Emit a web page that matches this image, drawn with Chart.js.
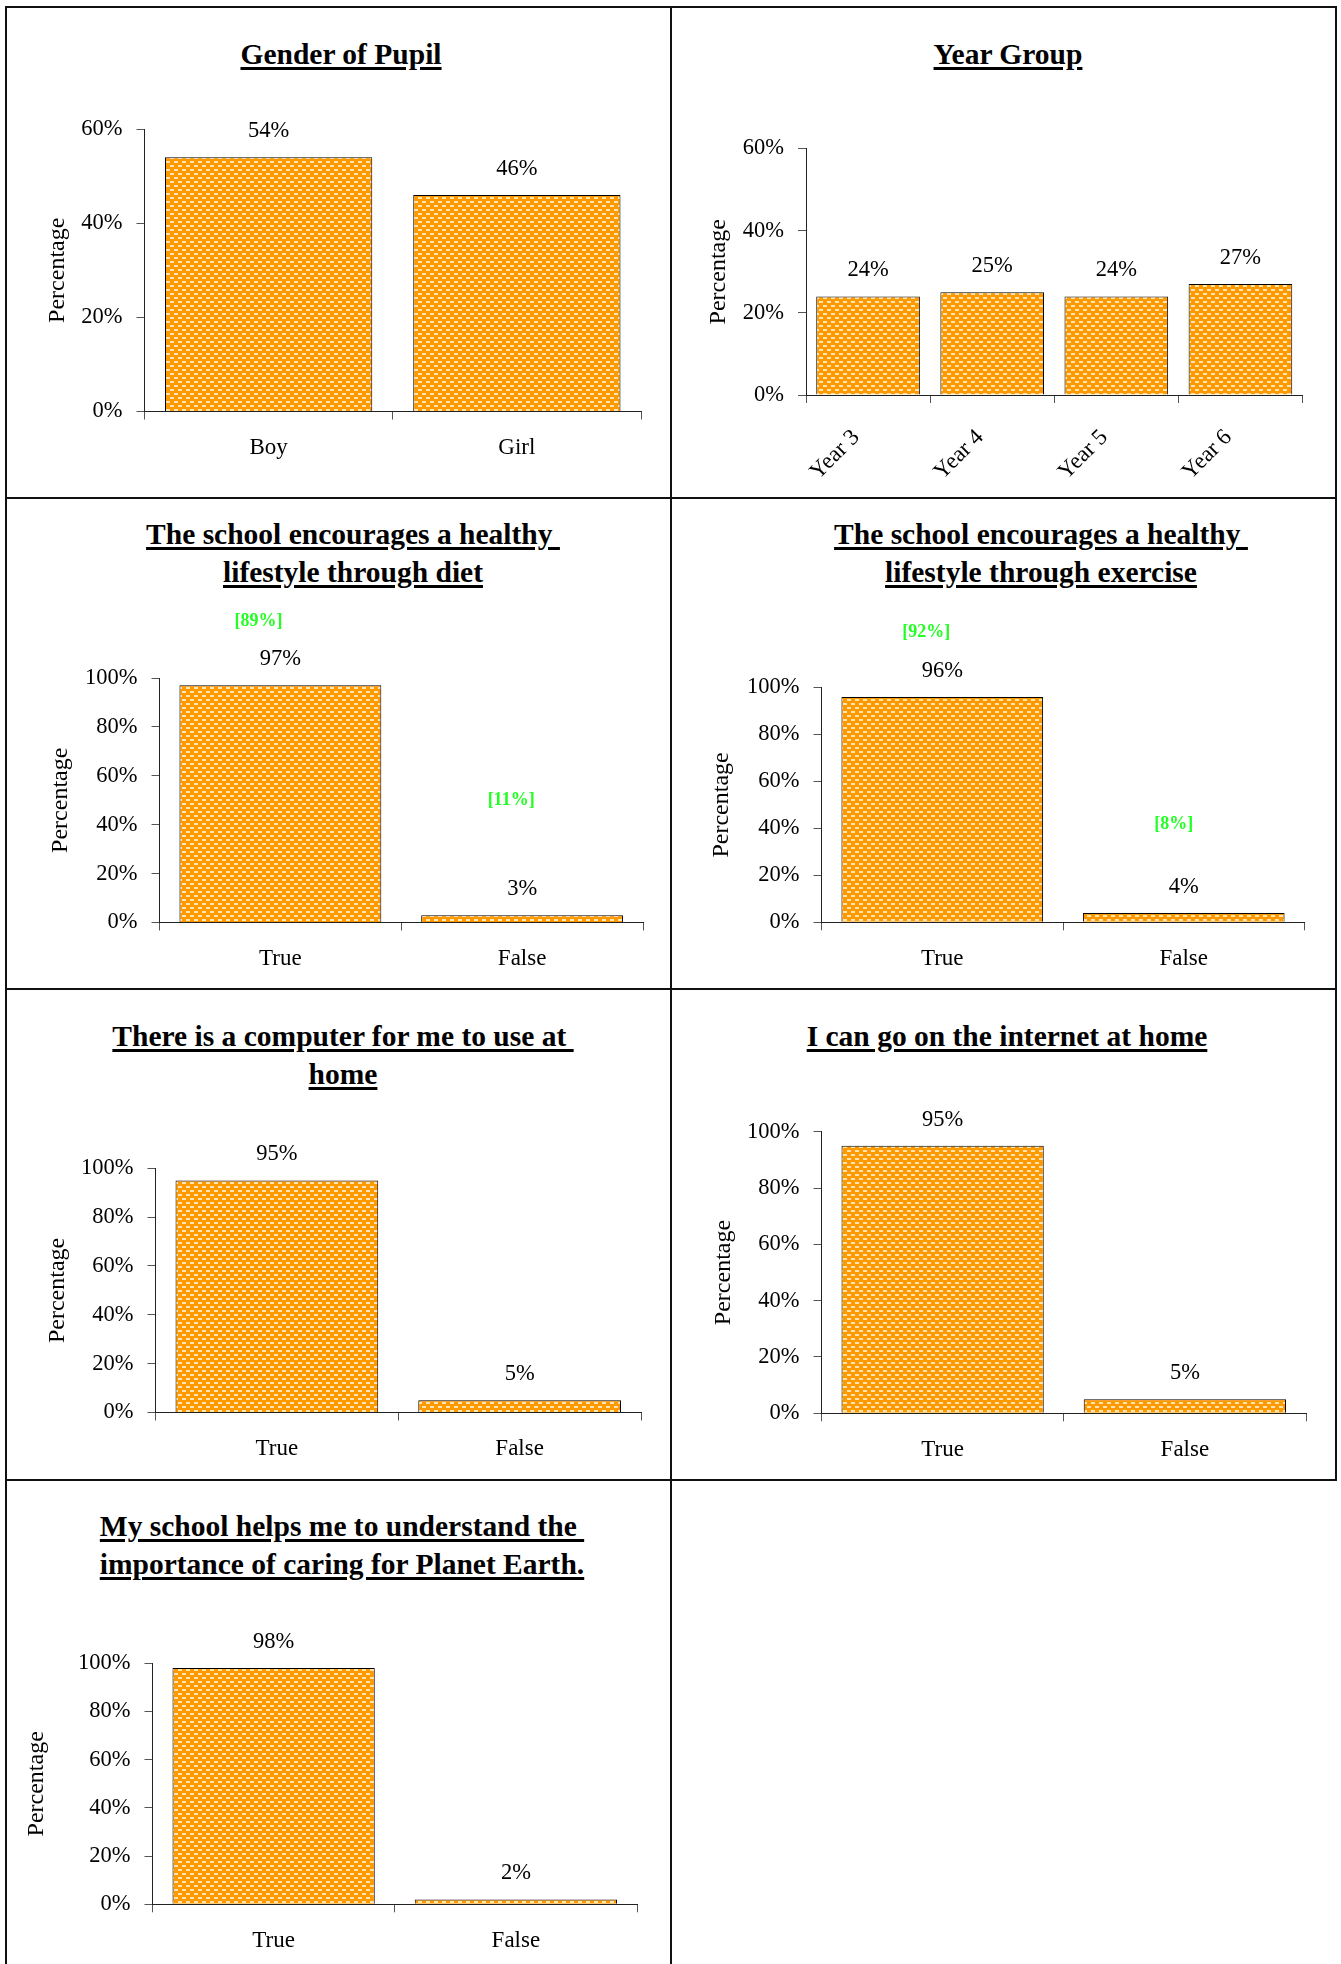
<!DOCTYPE html>
<html>
<head>
<meta charset="utf-8">
<title>Pupil survey</title>
<script src="https://cdn.jsdelivr.net/npm/chart.js@4.4.1/dist/chart.umd.min.js"></script>
<style>
  body { margin: 0; background: #fff; }
  #page { position: relative; width: 1341px; height: 1964px; overflow: hidden; background: #fff; }
  .rule { position: absolute; background: #111; }
  canvas { position: absolute; }
  .title {
    position: absolute; width: 700px; text-align: center; color: #000;
    font: bold 29.5px/37.5px "Liberation Serif", "Times New Roman", serif;
    text-decoration: underline; text-decoration-thickness: 3px; text-underline-offset: 3px;
  }
</style>
</head>
<body>
<div id="page">
  <!-- table rules -->
  <div class="rule" style="left:5px;top:6px;width:1332px;height:2px"></div>
  <div class="rule" style="left:5px;top:497px;width:1332px;height:2px"></div>
  <div class="rule" style="left:5px;top:988px;width:1332px;height:2px"></div>
  <div class="rule" style="left:5px;top:1479px;width:1332px;height:2px"></div>
  <div class="rule" style="left:5px;top:6px;width:2px;height:1958px"></div>
  <div class="rule" style="left:670px;top:6px;width:2px;height:1958px"></div>
  <div class="rule" style="left:1335px;top:6px;width:2px;height:1475px"></div>

  <div class="title" style="left:-9px;top:36px">Gender of Pupil</div>
  <div class="title" style="left:658px;top:36px">Year Group</div>
  <div class="title" style="left:3px;top:516px">The school encourages a healthy&nbsp;<br>lifestyle through diet</div>
  <div class="title" style="left:691px;top:516px">The school encourages a healthy&nbsp;<br>lifestyle through exercise</div>
  <div class="title" style="left:-7px;top:1018px">There is a computer for me to use at&nbsp;<br>home</div>
  <div class="title" style="left:657px;top:1018px">I can go on the internet at home</div>
  <div class="title" style="left:-8px;top:1508px">My school helps me to understand the&nbsp;<br>importance of caring for Planet Earth.</div>

  <canvas id="genderChart"></canvas>
  <canvas id="yearChart"></canvas>
  <canvas id="dietChart"></canvas>
  <canvas id="exerciseChart"></canvas>
  <canvas id="computerChart"></canvas>
  <canvas id="internetChart"></canvas>
  <canvas id="planetChart"></canvas>
</div>

<script>
// survey results (percent of pupils)
const genderLabels = ['Boy', 'Girl'];
const genderValues = [54, 46];

const yearLabels = ['Year 3', 'Year 4', 'Year 5', 'Year 6'];
const yearValues = [24, 25, 24, 27];

const answerLabels = ['True', 'False'];
const dietValues = [97, 3];
const dietLastYear = [89, 11];
const exerciseValues = [96, 4];
const exerciseLastYear = [92, 8];
const computerValues = [95, 5];
const internetValues = [95, 5];
const planetValues = [98, 2];

// axis tops
const smallScaleMax = 60;
const fullScaleMax = 100;
const tickStep = 20;

const SERIF = '"Liberation Serif", "Times New Roman", serif';

// orange fill with little white dashes
function dashPattern() {
  const tile = document.createElement('canvas');
  tile.width = 8;
  tile.height = 8;
  const t = tile.getContext('2d');
  t.fillStyle = '#ff9900';
  t.fillRect(0, 0, 8, 8);
  t.fillStyle = '#ffe4b4';
  t.fillRect(0, 1, 4, 2);
  t.fillRect(4, 5, 4, 2);
  return t.createPattern(tile, 'repeat');
}
const barFill = dashPattern();

// value above each bar, plus last year's figure in green where there is one
const valueLabels = {
  id: 'valueLabels',
  afterDatasetsDraw(chart, args, opts) {
    const ctx = chart.ctx;
    const meta = chart.getDatasetMeta(0);
    const data = chart.data.datasets[0].data;
    ctx.save();
    ctx.textAlign = 'center';
    ctx.textBaseline = 'middle';
    ctx.font = '22.5px ' + SERIF;
    ctx.fillStyle = '#000';
    meta.data.forEach((bar, i) => {
      ctx.fillText(data[i] + '%', bar.x, bar.y - 26);
    });
    if (opts.lastYear) {
      ctx.font = 'bold 18px ' + SERIF;
      ctx.fillStyle = '#22ff22';
      opts.lastYear.forEach((v, i) => {
        const spot = opts.spots[i];
        ctx.fillText('[' + v + '%]', meta.data[i].x + spot.dx, chart.scales.y.getPixelForValue(spot.at));
      });
    }
    ctx.restore();
  }
};

function barChart(id, box, labels, values, yMax, extra) {
  const canvas = document.getElementById(id);
  const [cx, cy, cw, ch] = box.cell;
  canvas.width = cw;
  canvas.height = ch;
  canvas.style.left = cx + 'px';
  canvas.style.top = cy + 'px';
  const xHeight = box.xHeight || 50;
  const yWidth = box.left - cx;

  return new Chart(canvas, {
    type: 'bar',
    data: {
      labels: labels,
      datasets: [{
        data: values,
        backgroundColor: barFill,
        borderColor: '#000',
        borderWidth: 1,
        barPercentage: 0.835,
        categoryPercentage: 1
      }]
    },
    plugins: [valueLabels],
    options: {
      responsive: false,
      animation: false,
      devicePixelRatio: 1,
      layout: {
        padding: {
          left: 0,
          top: box.top - cy,
          right: cx + cw - box.right,
          bottom: cy + ch - box.bottom - xHeight
        }
      },
      plugins: {
        legend: { display: false },
        tooltip: { enabled: false },
        valueLabels: extra || {}
      },
      scales: {
        x: {
          afterFit: (s) => { s.height = xHeight; },
          grid: { drawOnChartArea: false, tickLength: 8, color: '#555' },
          border: { color: '#222', width: 1 },
          ticks: {
            color: '#000',
            font: { family: SERIF, size: 23 },
            padding: box.rotate ? 21 : 15,
            labelOffset: box.rotate ? -12 : 0,
            maxRotation: box.rotate || 0,
            minRotation: box.rotate || 0
          }
        },
        y: {
          min: 0,
          max: yMax,
          afterFit: (s) => { s.width = yWidth; },
          grid: { drawOnChartArea: false, tickLength: 8, color: '#555' },
          border: { color: '#222', width: 1 },
          ticks: {
            stepSize: tickStep,
            color: '#000',
            font: { family: SERIF, size: 22.5 },
            padding: 14,
            callback: (v) => v + '%'
          },
          title: {
            display: true,
            text: 'Percentage',
            color: '#000',
            font: { family: SERIF, size: 24 },
            padding: { top: box.yTitleX - cx - 14.4, bottom: 0 }
          }
        }
      }
    }
  });
}

barChart('genderChart',
  { cell: [6, 8, 665, 490], left: 144.5, top: 129, right: 641, bottom: 411.5, yTitleX: 58 },
  genderLabels, genderValues, smallScaleMax);

barChart('yearChart',
  { cell: [671, 8, 665, 490], left: 806, top: 148.5, right: 1302.5, bottom: 395, yTitleX: 718.5, xHeight: 95, rotate: 45 },
  yearLabels, yearValues, smallScaleMax);

barChart('dietChart',
  { cell: [6, 498, 665, 491], left: 159.5, top: 678, right: 643, bottom: 922.5, yTitleX: 60.5 },
  answerLabels, dietValues, fullScaleMax,
  { lastYear: dietLastYear, spots: [{ dx: -22, at: 123.3 }, { dx: -11, at: 50 }] });

barChart('exerciseChart',
  { cell: [671, 498, 665, 491], left: 821.5, top: 687.5, right: 1304.5, bottom: 922.3, yTitleX: 721.7 },
  answerLabels, exerciseValues, fullScaleMax,
  { lastYear: exerciseLastYear, spots: [{ dx: -16, at: 123.4 }, { dx: -10, at: 41.9 }] });

barChart('computerChart',
  { cell: [6, 989, 665, 491], left: 155.5, top: 1168.3, right: 641, bottom: 1412.5, yTitleX: 58 },
  answerLabels, computerValues, fullScaleMax);

barChart('internetChart',
  { cell: [671, 989, 665, 491], left: 821.5, top: 1131.7, right: 1306, bottom: 1413.3, yTitleX: 723.5 },
  answerLabels, internetValues, fullScaleMax);

barChart('planetChart',
  { cell: [6, 1480, 665, 484], left: 152.5, top: 1663.3, right: 637, bottom: 1904.3, yTitleX: 37 },
  answerLabels, planetValues, fullScaleMax);
</script>
</body>
</html>
